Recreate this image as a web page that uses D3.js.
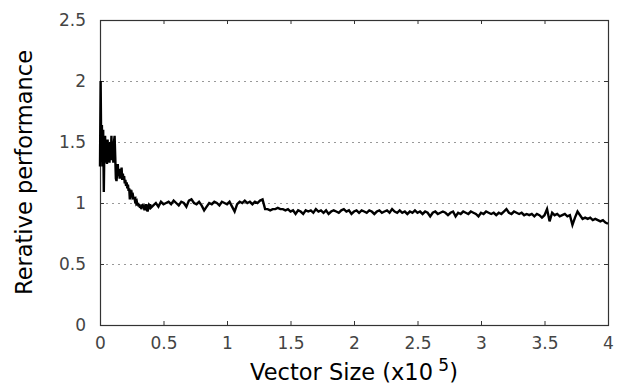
<!DOCTYPE html>
<html>
<head>
<meta charset="utf-8">
<script src="https://cdn.jsdelivr.net/npm/d3@7"></script>
<style>
  body { margin: 0; background: #fff; }
  svg { display: block; font-family: "DejaVu Sans", sans-serif; }
</style>
</head>
<body>
<div id="chart"></div>
<script>
// values; x in units of 1e5
const earlyStart = 0, earlyStep = 0.005;
const earlyPerf = [
  1.30, 2.00, 1.40, 1.64, 1.30, 1.60, 1.09, 1.50, 1.55, 1.33,
  1.48, 1.32, 1.52, 1.34, 1.45, 1.33, 1.50, 1.36, 1.55, 1.35,
  1.47, 1.33, 1.50, 1.55, 1.38, 1.20, 1.18, 1.25, 1.32, 1.22,
  1.28, 1.20, 1.25, 1.22, 1.29, 1.19, 1.24, 1.20, 1.22, 1.16,
  1.19, 1.14, 1.17, 1.12, 1.15, 1.10, 1.12, 1.03, 1.11, 1.07,
  1.08, 1.05, 1.06, 1.03, 1.05, 1.02, 1.03, 1.00, 1.01, 0.98,
  1.00, 0.97, 0.99, 0.96, 0.98, 0.95, 0.97, 0.99, 0.96, 0.98,
  0.94, 0.97, 0.96, 0.99, 0.97, 0.93, 0.96, 0.98, 0.97, 0.99,
  0.96
];

const midStart = 0.42, midStep = 0.02;
const midPerf = [
  0.98, 1.00, 0.97, 1.01, 0.99, 1.00, 1.01, 0.99, 1.02, 1.00,
  0.98, 1.01, 1.00, 0.97, 1.02, 1.03, 1.00, 0.99, 1.01, 0.98,
  0.94, 0.97, 1.00, 0.99, 1.01, 1.00, 0.98, 1.01, 1.00, 0.99,
  1.01, 0.97, 0.93, 0.99, 1.01, 1.00, 1.02, 1.00, 1.01, 0.99,
  1.01, 1.00, 1.02, 1.03, 0.95
];

const lateStart = 1.32, lateStep = 0.02;
const latePerf = [
  0.95, 0.94, 0.95, 0.95, 0.96, 0.95, 0.95, 0.94, 0.95, 0.93,
  0.94, 0.91, 0.94, 0.93, 0.91, 0.94, 0.93, 0.94, 0.92, 0.95,
  0.93, 0.94, 0.92, 0.94, 0.91, 0.93, 0.94, 0.93, 0.92, 0.94,
  0.95, 0.93, 0.94, 0.91, 0.93, 0.94, 0.92, 0.94, 0.93, 0.92,
  0.94, 0.93, 0.91, 0.93, 0.94, 0.92, 0.93, 0.94, 0.92, 0.95,
  0.93, 0.92, 0.94, 0.92, 0.93, 0.91, 0.93, 0.92, 0.94, 0.92,
  0.93, 0.91, 0.93, 0.92, 0.89, 0.92, 0.93, 0.91, 0.92, 0.93,
  0.92, 0.90, 0.92, 0.93, 0.89, 0.92, 0.91, 0.93, 0.92, 0.91,
  0.93, 0.92, 0.91, 0.89, 0.92, 0.91, 0.93, 0.92, 0.91, 0.92,
  0.90, 0.92, 0.91, 0.93, 0.95, 0.92, 0.91, 0.93, 0.92, 0.91,
  0.92, 0.90, 0.91, 0.90, 0.91, 0.89, 0.91, 0.90, 0.88, 0.90,
  0.95, 0.85, 0.92, 0.90, 0.91, 0.89, 0.90, 0.91, 0.89, 0.90,
  0.82, 0.88, 0.93, 0.90, 0.87, 0.88, 0.87, 0.88, 0.86, 0.87,
  0.86, 0.85, 0.86, 0.84, 0.83
];

const xTicks = [0, 0.5, 1, 1.5, 2, 2.5, 3, 3.5, 4];
const yTicks = [0, 0.5, 1, 1.5, 2, 2.5];
const gridTicks = [0.5, 1, 1.5, 2];

const width = 621, height = 387;
const margin = {top: 20, right: 13, bottom: 62, left: 100};
const innerW = width - margin.left - margin.right;
const innerH = height - margin.top - margin.bottom;

const svg = d3.select("#chart").append("svg")
    .attr("width", width)
    .attr("height", height);

const g = svg.append("g")
    .attr("transform", `translate(${margin.left},${margin.top})`);

const x = d3.scaleLinear().domain([0, 4]).range([0, innerW]);
const y = d3.scaleLinear().domain([0, 2.5]).range([innerH, 0]);

// build points from the three sampled pieces
let points = [];
earlyPerf.forEach((v, i) => points.push([earlyStart + i * earlyStep, v]));
midPerf.forEach((v, i) => points.push([midStart + i * midStep, v]));
latePerf.forEach((v, i) => points.push([lateStart + i * lateStep, v]));

// grid
g.selectAll(".grid").data(gridTicks).enter().append("line")
    .attr("class", "grid")
    .attr("x1", 0).attr("x2", innerW)
    .attr("y1", d => y(d) + 0.5).attr("y2", d => y(d) + 0.5)
    .attr("stroke", "#999")
    .attr("stroke-width", 1)
    .attr("stroke-dasharray", "2,4");

// axes (ticks point inward, mirrored on top/right)
const tickStyle = sel => {
    sel.select(".domain").remove();
    sel.selectAll(".tick line").attr("stroke", "#333");
    sel.selectAll(".tick text").attr("fill", "#444")
        .style("font-size", "17px").style("font-family", "DejaVu Sans, sans-serif");
};

g.append("g")
    .attr("transform", `translate(0,${innerH})`)
    .call(d3.axisBottom(x).tickValues(xTicks).tickFormat(d3.format("")).tickSizeInner(-4).tickPadding(12))
    .call(tickStyle);

g.append("g")
    .call(d3.axisTop(x).tickValues(xTicks).tickFormat("").tickSizeInner(-4))
    .call(tickStyle);

g.append("g")
    .call(d3.axisLeft(y).tickValues(yTicks).tickFormat(d3.format("")).tickSizeInner(-4).tickPadding(14))
    .call(tickStyle);

g.append("g")
    .attr("transform", `translate(${innerW},0)`)
    .call(d3.axisRight(y).tickValues(yTicks).tickFormat("").tickSizeInner(-4))
    .call(tickStyle);

// frame
g.append("rect")
    .attr("x", 0.5).attr("y", 0.5)
    .attr("width", innerW).attr("height", innerH)
    .attr("fill", "none")
    .attr("stroke", "#333")
    .attr("stroke-width", 1.2);

// data line
const line = d3.line()
    .x(d => x(d[0]))
    .y(d => y(d[1]));

g.append("path")
    .datum(points)
    .attr("fill", "none")
    .attr("stroke", "#000")
    .attr("stroke-width", 2.4)
    .attr("stroke-linejoin", "miter")
    .attr("d", line);

// axis titles
svg.append("text")
    .attr("transform", `translate(32,${margin.top + innerH / 2}) rotate(-90)`)
    .attr("text-anchor", "middle")
    .style("font-size", "22.5px")
    .attr("fill", "#000")
    .text("Rerative performance");

const xt = svg.append("text")
    .attr("x", margin.left + innerW / 2)
    .attr("y", 380)
    .attr("text-anchor", "middle")
    .style("font-size", "22.5px")
    .attr("fill", "#000");
xt.append("tspan").text("Vector Size (x10");
xt.append("tspan").attr("dy", -9).style("font-size", "17px").text(" 5");
xt.append("tspan").attr("dy", 9).text(")");
</script>
</body>
</html>
